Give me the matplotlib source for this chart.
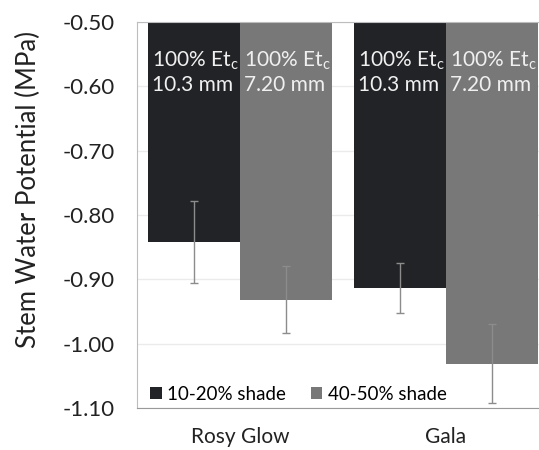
import matplotlib.pyplot as plt
import numpy as np

# data
cultivars = ['Rosy Glow', 'Gala']
shades = ['10-20% shade', '40-50% shade']
swp_low_shade = [-0.842, -0.914]
swp_high_shade = [-0.932, -1.031]
err_low_shade = [0.063, 0.039]
err_high_shade = [0.052, 0.061]
bar_labels_low = ['100% Et$_\\mathregular{c}$\n10.3 mm', '100% Et$_\\mathregular{c}$\n10.3 mm']
bar_labels_high = ['100% Et$_\\mathregular{c}$\n7.20 mm', '100% Et$_\\mathregular{c}$\n7.20 mm']
yticks = [-1.10, -1.00, -0.90, -0.80, -0.70, -0.60, -0.50]

plt.rcParams['font.family'] = ['Lato', 'DejaVu Sans']
plt.rcParams['mathtext.fontset'] = 'custom'
plt.rcParams['mathtext.rm'] = 'Lato'

dark = '#222326'
gray = '#787878'
top = -0.50

fig = plt.figure(figsize=(5.39, 4.5), dpi=100)
ax = fig.add_axes([0.254, 0.0933, 0.7644, 0.858])

x = np.arange(len(cultivars))
w = 0.448

for vals, errs, labels, color, off, name in [
    (swp_low_shade, err_low_shade, bar_labels_low, dark, -w / 2, shades[0]),
    (swp_high_shade, err_high_shade, bar_labels_high, gray, w / 2, shades[1]),
]:
    heights = [v - top for v in vals]
    ax.bar(x + off, heights, w, bottom=top, color=color, label=name, zorder=2)
    ax.errorbar(x + off, vals, yerr=errs, fmt='none', ecolor='#8c8c8c',
                elinewidth=1, capsize=3, capthick=1, zorder=3)
    for xi, lab in zip(x + off, labels):
        ax.text(xi - w / 2 + 0.022, -0.543, lab, color='#f0f0f0', fontsize=15,
                ha='left', va='top', linespacing=1.2, zorder=4)

ax.set_xlim(-0.5, 1.5)
ax.set_ylim(-1.10, -0.50)
ax.set_yticks(yticks)
ax.set_yticklabels([f'{t:.2f}' for t in yticks], fontsize=16, color='#222222')
ax.set_xticks(x)
ax.set_xticklabels(cultivars, fontsize=15, color='#222222')
ax.tick_params(axis='both', length=0)
ax.tick_params(axis='y', pad=16)
ax.tick_params(axis='x', pad=14)
ax.grid(axis='y', color='#ebebeb', linewidth=1, zorder=0)
ax.set_axisbelow(True)
for s in ['left', 'top', 'right']:
    ax.spines[s].set_color('#bdbdbd')
ax.spines['bottom'].set_color('#999999')

ax.set_ylabel('Stem Water Potential (MPa)', fontsize=18.5, color='#222222')
ax.yaxis.set_label_coords(-0.233, 0.565)

ax.legend(loc='lower left', frameon=False, fontsize=13.5, handlelength=0.62,
          handleheight=0.62, handletextpad=0.3, columnspacing=1.3, ncol=2,
          bbox_to_anchor=(0.0, -0.02), borderaxespad=0.3)

fig.savefig('out.png', dpi=100)
